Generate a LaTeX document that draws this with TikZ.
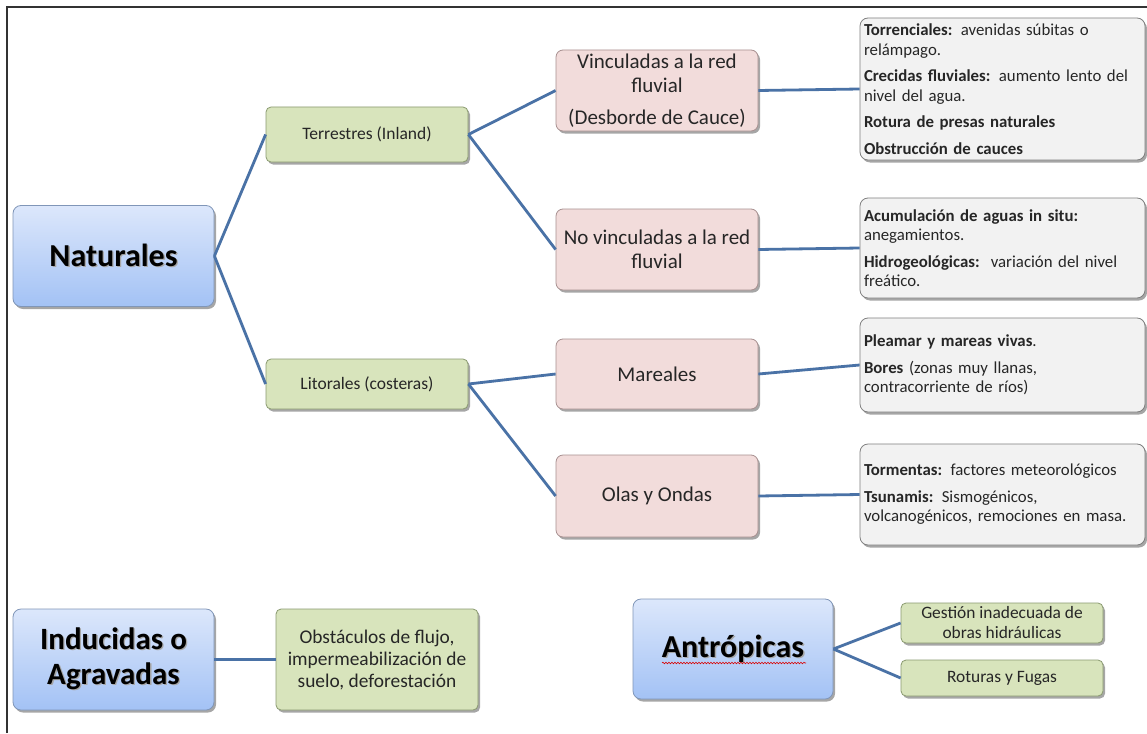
\documentclass[tikz,border=0pt]{standalone}
\usepackage{fontspec}
\setmainfont{Carlito}
\usetikzlibrary{shadows,decorations.pathmorphing}
\definecolor{linkc}{HTML}{4A72A6}
\definecolor{greenf}{HTML}{D8E4BC}
\definecolor{greend}{HTML}{8A9A70}
\definecolor{pinkf}{HTML}{F2DCDB}
\definecolor{pinkd}{HTML}{A89090}
\definecolor{grayf}{HTML}{F2F2F2}
\definecolor{grayd}{HTML}{7F7F7F}
\definecolor{bluetop}{HTML}{DCE7FB}
\definecolor{bluebot}{HTML}{A3C2F5}
\definecolor{blued}{HTML}{8096B8}
\definecolor{txt}{HTML}{262626}
\newcommand\glowtxt[1]{\makebox[0pt][l]{\hspace{1.3pt}\raisebox{-1.3pt}{\textcolor{black!35}{#1}}}#1}
\tikzset{
  shad/.style={drop shadow={shadow xshift=2pt,shadow yshift=-2.5pt,opacity=0.35,fill=black}},
  bigbox/.style={shad,draw=blued,line width=0.8pt,rounded corners=8pt,top color=bluetop,bottom color=bluebot,
    minimum width=201pt,minimum height=101pt,inner sep=0pt,align=center,font=\fontsize{32}{35}\selectfont\bfseries,text=black},
  greenbox/.style={shad,draw=greend,line width=0.8pt,rounded corners=5pt,fill=greenf,
    minimum width=202pt,inner sep=0pt,align=center,text=txt},
  pinkbox/.style={shad,draw=pinkd,line width=0.8pt,rounded corners=7pt,fill=pinkf,
    minimum width=202pt,inner sep=0pt,align=center,font=\fontsize{21}{24}\selectfont,text=txt},
  graybox/.style={shad,draw=grayd,line width=0.8pt,rounded corners=8pt,fill=grayf,
    text width=277pt,inner xsep=4pt,inner ysep=0pt,align=left,font=\fontsize{16.8}{19.5}\selectfont,text=txt},
  link/.style={draw=linkc,line width=2.8pt},
}
\begin{document}
\begin{tikzpicture}[x=1pt,y=-1pt]
\path[fill=white,use as bounding box] (0,0) rectangle (1147,733);
\draw[line width=1.6pt,black!80] (7,733) coordinate (fa) -- (7,7) coordinate (fb) -- (1147,7) coordinate (fc);

% level 0
\node[bigbox] (nat) at (113.5,256) {\glowtxt{Naturales}};
\node[bigbox,font=\fontsize{31}{35}\selectfont\bfseries] (ind) at (113.5,659.5) {\glowtxt{Inducidas o}\\\glowtxt{Agravadas}};
\node[bigbox,minimum width=200pt,minimum height=100pt] (ant) at (733,649) {\glowtxt{Antrópicas}};

% level 1
\node[greenbox,minimum height=55pt,font=\fontsize{17.5}{20}\selectfont] (ter) at (367,134.5) {Terrestres (Inland)};
\node[greenbox,minimum height=50pt,font=\fontsize{17.5}{20}\selectfont] (lit) at (367,384) {Litorales (costeras)};
\node[greenbox,minimum height=101pt,font=\fontsize{19.4}{22}\selectfont] (obs) at (377,659.5) {Obstáculos de flujo,\\impermeabilización de\\suelo, deforestación};
\node[greenbox,minimum height=40pt,font=\fontsize{17.4}{20}\selectfont] (ges) at (1002,623) {Gestión inadecuada de\\obras hidráulicas};
\node[greenbox,minimum height=36pt,font=\fontsize{17.4}{20}\selectfont] (rot) at (1002,678) {Roturas y Fugas};

% level 2
\node[pinkbox,minimum height=81pt] (vin) at (657,90.5) {Vinculadas a la red\\fluvial\\[8pt](Desborde de Cauce)};
\node[pinkbox,minimum height=81pt] (nov) at (657,249.5) {No vinculadas a la red\\fluvial};
\node[pinkbox,minimum height=70pt] (mar) at (657,374) {Mareales};
\node[pinkbox,minimum height=82pt] (ola) at (657,496) {Olas y Ondas};

% level 3
\node[graybox,minimum height=142pt] (g1) at (1002.5,89) {\textbf{Torrenciales:} avenidas súbitas o\\relámpago.\\[7pt]\textbf{Crecidas fluviales:} aumento lento del\\nivel del agua.\\[7pt]\textbf{Rotura de presas naturales}\\[7pt]\textbf{Obstrucción de cauces}};
\node[graybox,minimum height=100pt] (g2) at (1002.5,248) {\textbf{Acumulación de aguas in situ:}\\anegamientos.\\[7pt]\textbf{Hidrogeológicas:}\ \ variación del nivel\\freático.};
\node[graybox,minimum height=94pt] (g3) at (1002.5,365) {\textbf{Pleamar y mareas vivas}.\\[7pt]\textbf{Bores} (zonas muy llanas,\\contracorriente de ríos)};
\node[graybox,minimum height=101pt] (g4) at (1002.5,494.5) {\textbf{Tormentas:} factores meteorológicos\\[7pt]\textbf{Tsunamis:} Sismogénicos,\\volcanogénicos, remociones en masa.};

% spell-check underline
\draw[red!85!black,line width=0.6pt,decorate,decoration={snake,amplitude=0.8pt,segment length=3pt}]
  ([xshift=-71pt,yshift=-14pt]ant.center) coordinate (ua) -- ([xshift=73pt,yshift=-14pt]ant.center) coordinate (ub);

% connectors
\draw[link] (nat.east) -- (ter.west);
\draw[link] (nat.east) -- (lit.west);
\draw[link] (ter.east) -- (vin.west);
\draw[link] (ter.east) -- (nov.west);
\draw[link] (lit.east) -- (mar.west);
\draw[link] (lit.east) -- (ola.west);
\draw[link] (vin.east) -- (g1.west);
\draw[link] (nov.east) -- (g2.west);
\draw[link] (mar.east) -- (g3.west);
\draw[link] (ola.east) -- (g4.west);
\draw[link] (ind.east) -- (obs.west);
\draw[link] (ant.east) -- (ges.west);
\draw[link] (ant.east) -- (rot.west);
\end{tikzpicture}
\end{document}
